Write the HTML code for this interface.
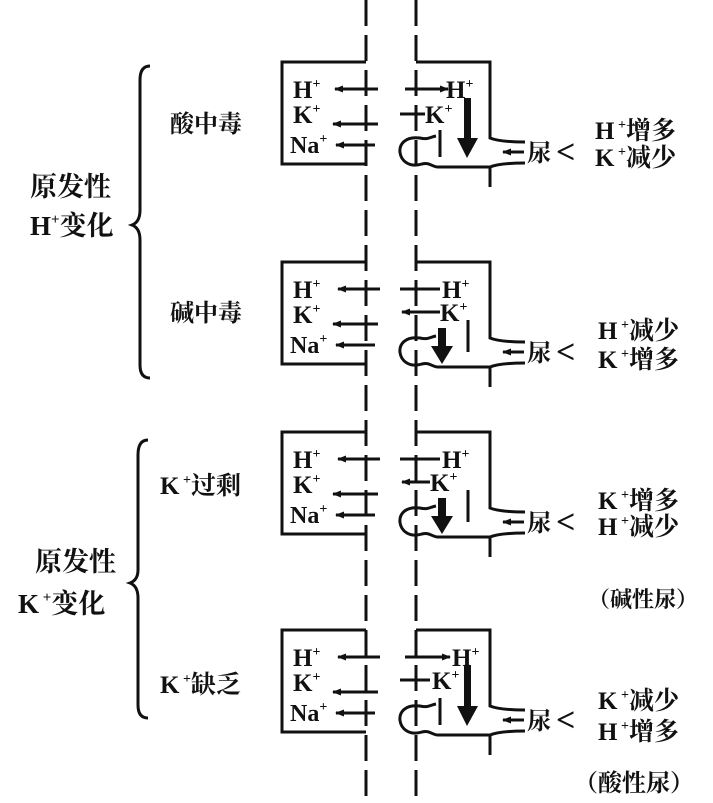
<!DOCTYPE html>
<html><head><meta charset="utf-8"><style>
html,body{margin:0;padding:0;background:#fff;}
svg{display:block}
text{font-family:"Liberation Serif","Noto Serif CJK SC",serif;font-weight:bold;fill:#111}
.c{font-family:"Liberation Serif","Noto Serif CJK SC","Noto Sans CJK SC",serif}
</style></head><body>
<svg width="713" height="803" viewBox="0 0 713 803" xmlns="http://www.w3.org/2000/svg">
<defs>
<marker id="a" markerWidth="9" markerHeight="7" refX="8" refY="3.5" orient="auto" markerUnits="userSpaceOnUse"><path d="M0,0 L9,3.5 L0,7 Z" fill="#111"/></marker>
<g id="cell">
  <path d="M366,0 H282 V102 H366" fill="none" stroke="#111" stroke-width="3"/>
  <path d="M416,0 H490 V76 Q500,80 525,80" fill="none" stroke="#111" stroke-width="3"/>
  <path d="M525,101 Q500,101 490,105 H438 C432,105 430,100 422,102 C396,110 390,72 420,76 C428,78 430,75 436,74" fill="none" stroke="#111" stroke-width="3"/>
  <line x1="490" y1="105" x2="490" y2="125" stroke="#111" stroke-width="3"/>
  <line x1="524" y1="90" x2="503" y2="90" stroke="#111" stroke-width="3" marker-end="url(#a)"/>
  <text x="293" y="36" font-size="25">H<tspan font-size="14" dy="-10">+</tspan></text>
  <text x="293" y="61" font-size="25">K<tspan font-size="14" dy="-10">+</tspan></text>
  <text x="290" y="91" font-size="24" font-weight="normal">Na<tspan font-size="14" dy="-10">+</tspan></text>
  <line x1="378" y1="62" x2="333" y2="62" stroke="#111" stroke-width="3" marker-end="url(#a)"/>
  <line x1="375" y1="83" x2="336" y2="83" stroke="#111" stroke-width="3" marker-end="url(#a)"/>
  <text x="527" y="99" font-size="24" class="c">尿</text>
  <text x="556" y="101" font-size="34" font-weight="normal">&lt;</text>
</g>
</defs>
<line x1="366" y1="0" x2="366" y2="803" stroke="#111" stroke-width="3" stroke-dasharray="26 9"/>
<line x1="416" y1="0" x2="416" y2="803" stroke="#111" stroke-width="3" stroke-dasharray="26 9"/>

<path d="M150,66 Q140,66 140,80 V210 Q140,222 132,225 Q140,228 140,240 V365 Q140,378 150,378" fill="none" stroke="#111" stroke-width="3"/>
<path d="M148,440 Q138,440 138,455 V570 Q138,580 130,583 Q138,586 138,598 V705 Q138,718 148,718" fill="none" stroke="#111" stroke-width="3"/>
<text x="30" y="196" font-size="27" class="c">原发性</text>
<text x="30" y="235" font-size="27">H<tspan font-size="15" dy="-11">+</tspan><tspan class="c" dy="11">变化</tspan></text>
<text x="35" y="571" font-size="27" class="c">原发性</text>
<text x="18" y="613" font-size="27">K<tspan font-size="15" dy="-11"> +</tspan><tspan class="c" dy="11">变化</tspan></text>
<text x="170" y="132" font-size="24" class="c">酸中毒</text>
<text x="170" y="321" font-size="24" class="c">碱中毒</text>
<text x="160" y="494" font-size="25">K<tspan font-size="14" dy="-10"> +</tspan><tspan class="c" dy="10">过剩</tspan></text>
<text x="160" y="693" font-size="25">K<tspan font-size="14" dy="-10"> +</tspan><tspan class="c" dy="10">缺乏</tspan></text>

<g transform="translate(0,62)">
<use href="#cell"/>
<line x1="336" y1="27" x2="378" y2="27" stroke="#111" stroke-width="3"/>
<line x1="360" y1="27" x2="335" y2="27" stroke="#111" stroke-width="3" marker-end="url(#a)"/>
<line x1="405" y1="27" x2="448" y2="27" stroke="#111" stroke-width="3" marker-end="url(#a)"/>
<line x1="400" y1="52" x2="425" y2="52" stroke="#111" stroke-width="3"/>
<text x="446" y="36" font-size="25">H<tspan font-size="14" dy="-10">+</tspan></text>
<text x="425" y="61" font-size="25">K<tspan font-size="14" dy="-10">+</tspan></text>
<line x1="440" y1="68" x2="440" y2="95" stroke="#111" stroke-width="3"/>
<path d="M464,36 H471 V76 H478 L467,96 L457,76 H464 Z" fill="#111"/>
<text x="595" y="77" font-size="25">H<tspan font-size="14" dy="-10"> +</tspan><tspan class="c" dy="10">增多</tspan></text>
<text x="595" y="104" font-size="25">K<tspan font-size="14" dy="-10"> +</tspan><tspan class="c" dy="10">减少</tspan></text>
</g>
<g transform="translate(0,262)">
<use href="#cell"/>
<line x1="380" y1="27" x2="338" y2="27" stroke="#111" stroke-width="3" marker-end="url(#a)"/>
<line x1="400" y1="27" x2="440" y2="27" stroke="#111" stroke-width="3"/>
<line x1="440" y1="50" x2="402" y2="50" stroke="#111" stroke-width="3" marker-end="url(#a)"/>
<text x="442" y="36" font-size="25">H<tspan font-size="14" dy="-10">+</tspan></text>
<text x="440" y="59" font-size="25">K<tspan font-size="14" dy="-10">+</tspan></text>
<line x1="468" y1="58" x2="468" y2="90" stroke="#111" stroke-width="3"/>
<path d="M438,66 H446 V84 H453 L442,102 L431,84 H438 Z" fill="#111"/>
<text x="598" y="77" font-size="25">H<tspan font-size="14" dy="-10"> +</tspan><tspan class="c" dy="10">减少</tspan></text>
<text x="598" y="106" font-size="25">K<tspan font-size="14" dy="-10"> +</tspan><tspan class="c" dy="10">增多</tspan></text>
</g>
<g transform="translate(0,432)">
<use href="#cell"/>
<line x1="380" y1="27" x2="338" y2="27" stroke="#111" stroke-width="3" marker-end="url(#a)"/>
<line x1="400" y1="27" x2="440" y2="27" stroke="#111" stroke-width="3"/>
<line x1="430" y1="50" x2="402" y2="50" stroke="#111" stroke-width="3" marker-end="url(#a)"/>
<text x="442" y="36" font-size="25">H<tspan font-size="14" dy="-10">+</tspan></text>
<text x="430" y="59" font-size="25">K<tspan font-size="14" dy="-10">+</tspan></text>
<line x1="468" y1="58" x2="468" y2="90" stroke="#111" stroke-width="3"/>
<path d="M438,66 H446 V84 H453 L442,102 L431,84 H438 Z" fill="#111"/>
<text x="598" y="77" font-size="25">K<tspan font-size="14" dy="-10"> +</tspan><tspan class="c" dy="10">增多</tspan></text>
<text x="598" y="103" font-size="25">H<tspan font-size="14" dy="-10"> +</tspan><tspan class="c" dy="10">减少</tspan></text>
</g>
<text x="588" y="607" font-size="22" class="c">（碱性尿）</text>
<g transform="translate(0,630)">
<use href="#cell"/>
<line x1="380" y1="27" x2="338" y2="27" stroke="#111" stroke-width="3" marker-end="url(#a)"/>
<line x1="405" y1="27" x2="450" y2="27" stroke="#111" stroke-width="3" marker-end="url(#a)"/>
<line x1="400" y1="50" x2="430" y2="50" stroke="#111" stroke-width="3"/>
<text x="452" y="36" font-size="25">H<tspan font-size="14" dy="-10">+</tspan></text>
<text x="432" y="59" font-size="25">K<tspan font-size="14" dy="-10">+</tspan></text>
<line x1="440" y1="68" x2="440" y2="95" stroke="#111" stroke-width="3"/>
<path d="M464,36 H471 V76 H478 L467,96 L457,76 H464 Z" fill="#111"/>
<text x="598" y="79" font-size="25">K<tspan font-size="14" dy="-10"> +</tspan><tspan class="c" dy="10">减少</tspan></text>
<text x="598" y="110" font-size="25">H<tspan font-size="14" dy="-10"> +</tspan><tspan class="c" dy="10">增多</tspan></text>
</g>
<text x="574" y="791" font-size="24" class="c">（酸性尿）</text>
</svg>
</body></html>
